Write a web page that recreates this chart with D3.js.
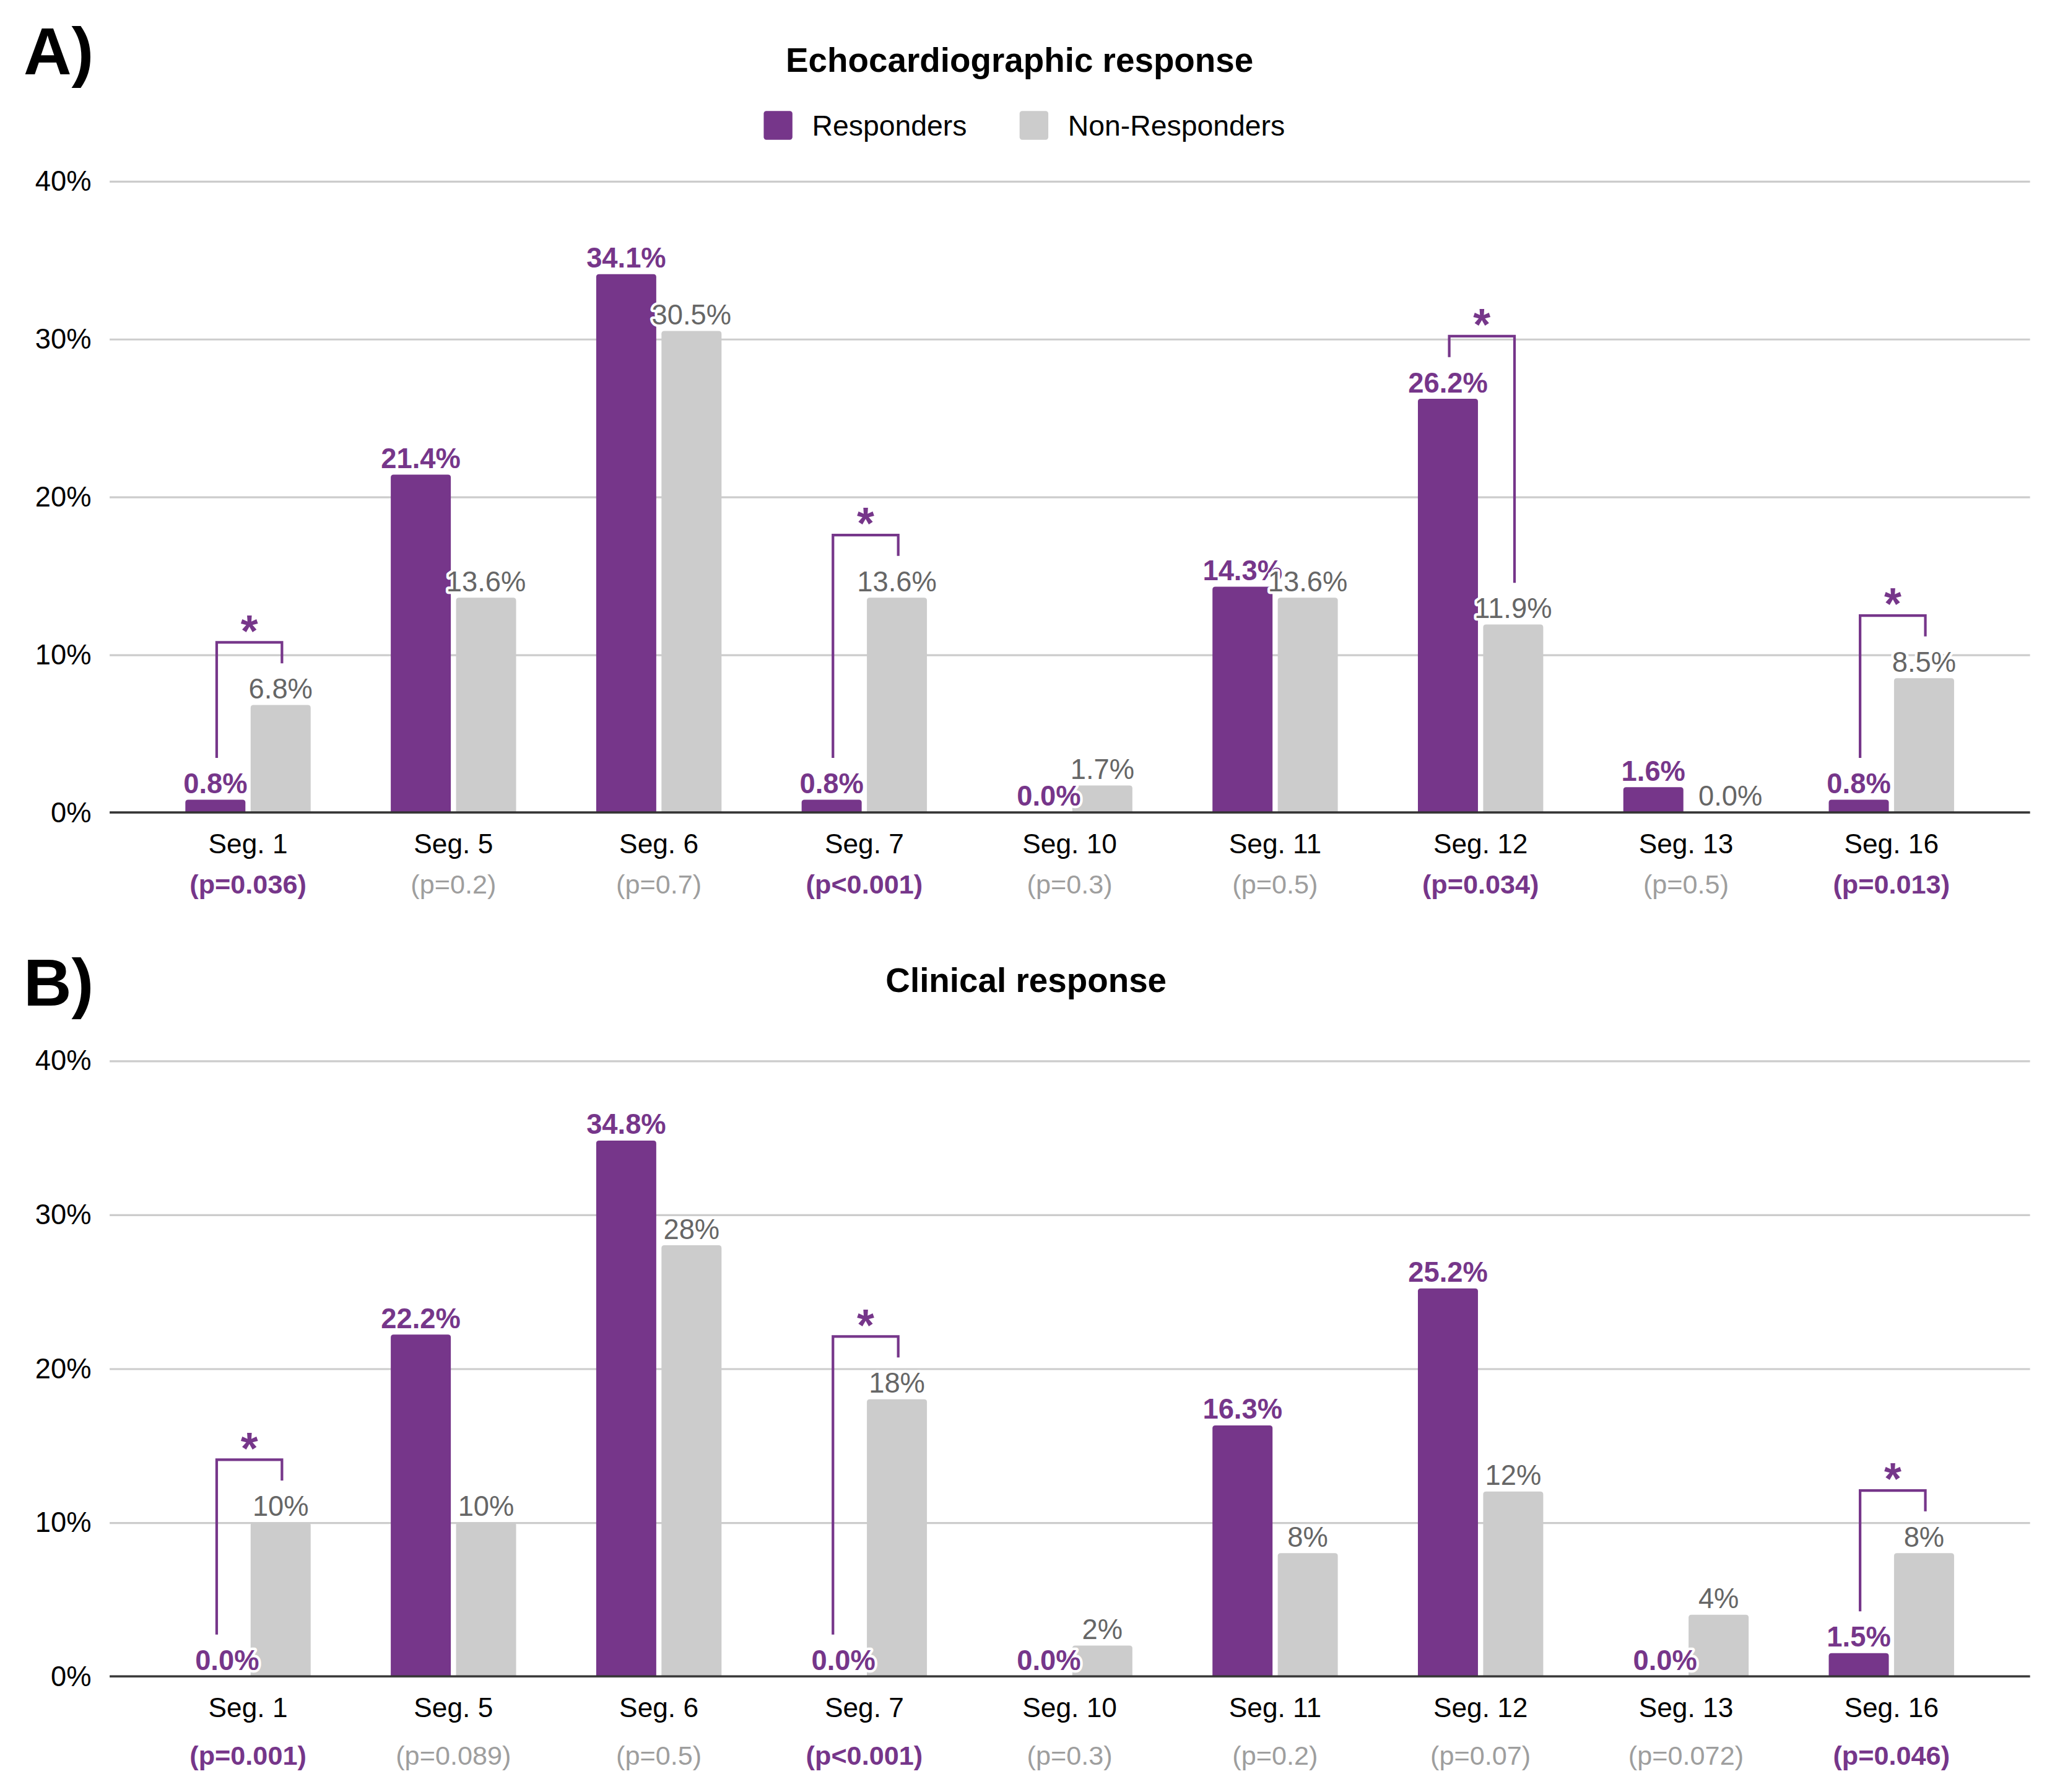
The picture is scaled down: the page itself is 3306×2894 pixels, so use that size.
<!DOCTYPE html>
<html>
<head>
<meta charset="utf-8">
<script src="https://cdn.jsdelivr.net/npm/d3@7"></script>
<style>
  body { margin: 0; background: #fff; }
  text { font-family: "Liberation Sans", Arial, sans-serif; }
</style>
</head>
<body>
<script>
"use strict";
// chart values
const segments = ["Seg. 1", "Seg. 5", "Seg. 6", "Seg. 7", "Seg. 10", "Seg. 11", "Seg. 12", "Seg. 13", "Seg. 16"];
const seriesNames = ["Responders", "Non-Responders"];
const echoResponders = [0.8, 21.4, 34.1, 0.8, 0.0, 14.3, 26.2, 1.6, 0.8];
const echoNonResponders = [6.8, 13.6, 30.5, 13.6, 1.7, 13.6, 11.9, 0.0, 8.5];
const echoPValues = ["p=0.036", "p=0.2", "p=0.7", "p<0.001", "p=0.3", "p=0.5", "p=0.034", "p=0.5", "p=0.013"];
const clinResponders = [0.0, 22.2, 34.8, 0.0, 0.0, 16.3, 25.2, 0.0, 1.5];
const clinNonResponders = [10, 10, 28, 18, 2, 8, 12, 4, 8];
const clinPValues = ["p=0.001", "p=0.089", "p=0.5", "p<0.001", "p=0.3", "p=0.2", "p=0.07", "p=0.072", "p=0.046"];
const yTicks = [0, 10, 20, 30, 40];

const purple = "#76368a", grey = "#cccccc";

let svg = d3.select("body")
            .append("svg")
            .attr("width", 3306)
            .attr("height", 2894)
            .attr("viewBox", "0 0 1568 1372.5");

let gridLeft = 84, gridRight = 1555;
let x = d3.scaleBand().domain(segments).range([111.3, 1527.5]);
let sub = d3.scaleBand().domain(seriesNames).range([-48, 48]).paddingInner(0.08);

// bar with rounded top corners
function barPath(x0, y0, w, h, r) {
    return `M${x0},${y0 + h}V${y0 + r}Q${x0},${y0} ${x0 + r},${y0}H${x0 + w - r}Q${x0 + w},${y0} ${x0 + w},${y0 + r}V${y0 + h}Z`;
}

function drawPanel(cfg) {
    let g = svg.append("g");
    let y = d3.scaleLinear().domain([0, 40]).range([cfg.y0, cfg.y40]);

    g.append("text")
        .attr("x", 18).attr("y", cfg.letterY)
        .attr("font-size", 51).attr("font-weight", "bold")
        .text(cfg.letter);

    g.append("text")
        .attr("x", cfg.titleX).attr("y", cfg.titleY)
        .attr("text-anchor", "middle")
        .attr("font-size", 26).attr("font-weight", "bold")
        .text(cfg.title);

    if (cfg.legend) {
        let leg = g.append("g");
        let lx = [585, 781];
        seriesNames.forEach((name, i) => {
            leg.append("rect")
                .attr("x", lx[i]).attr("y", 85)
                .attr("width", 22).attr("height", 22).attr("rx", 2)
                .attr("fill", i === 0 ? purple : grey);
            leg.append("text")
                .attr("x", lx[i] + 37).attr("y", 104)
                .attr("font-size", 22)
                .text(name);
        });
    }

    // gridlines + y labels
    let yAxis = g.append("g")
        .attr("transform", `translate(${gridLeft},0)`)
        .call(d3.axisLeft(y).tickValues(yTicks).tickSize(-(gridRight - gridLeft))
              .tickPadding(14).tickFormat(d => d + "%"));
    yAxis.select(".domain").remove();
    yAxis.selectAll("line").attr("stroke", "#cccccc").attr("stroke-width", 1.5);
    yAxis.selectAll("text").attr("font-size", 21.5).attr("fill", "#000")
        .attr("font-family", "Liberation Sans, Arial, sans-serif");

    let rows = segments.map((s, i) => ({
        seg: s,
        vals: [cfg.resp[i], cfg.nonResp[i]],
        p: cfg.pvals[i],
        sig: +cfg.pvals[i].slice(2) < 0.05
    }));

    // bars
    let groups = g.selectAll(".grp")
        .data(rows)
        .enter()
        .append("g")
        .attr("transform", d => `translate(${x(d.seg) + x.bandwidth() / 2},0)`);

    groups.selectAll("path.bar")
        .data(d => d.vals.map((v, k) => ({ v: v, k: k })).filter(e => e.v > 0))
        .enter()
        .append("path")
        .attr("class", "bar")
        .attr("fill", e => e.k === 0 ? purple : grey)
        .attr("d", e => barPath(sub(seriesNames[e.k]), y(e.v), sub.bandwidth(), y(0) - y(e.v), 2.2));

    // baseline
    g.append("line")
        .attr("x1", gridLeft).attr("x2", gridRight)
        .attr("y1", y(0)).attr("y2", y(0))
        .attr("stroke", "#333").attr("stroke-width", 1.6);

    // value labels
    groups.selectAll("text.val")
        .data(d => d.vals.map((v, k) => ({ v: v, k: k })))
        .enter()
        .append("text")
        .attr("class", "val")
        .attr("x", e => sub(seriesNames[e.k]) + sub.bandwidth() / 2 + (e.v === 0 ? 9 : 0))
        .attr("y", e => y(e.v) - 5)
        .attr("text-anchor", "middle")
        .attr("font-size", 21.5)
        .attr("font-weight", e => e.k === 0 ? "bold" : "normal")
        .attr("fill", e => e.k === 0 ? purple : "#666666")
        .attr("stroke", "#fff").attr("stroke-width", 4)
        .attr("stroke-linejoin", "round").attr("paint-order", "stroke")
        .text(e => d3.format(e.k === 0 ? cfg.respFmt : cfg.nonFmt)(e.v) + "%");

    // significance brackets
    let sigGroups = groups.filter(d => d.sig);
    sigGroups.append("path")
        .attr("fill", "none").attr("stroke", purple).attr("stroke-width", 2)
        .attr("d", d => {
            let xl = sub(seriesNames[0]) + sub.bandwidth() / 2 + 1;
            let xr = sub(seriesNames[1]) + sub.bandwidth() / 2 + 1;
            let top = y(d3.max(d.vals)) - 48;
            return `M${xl},${y(d.vals[0]) - 32}V${top}H${xr}V${y(d.vals[1]) - 32}`;
        });
    sigGroups.append("text")
        .attr("x", 1)
        .attr("y", d => y(d3.max(d.vals)) - 48 + 3)
        .attr("text-anchor", "middle")
        .attr("font-size", 34).attr("font-weight", "bold")
        .attr("fill", purple)
        .text("*");

    // category labels
    let xAxis = g.append("g")
        .attr("transform", `translate(0,${y(0)})`)
        .call(d3.axisBottom(x).tickSize(0).tickPadding(16.5));
    xAxis.select(".domain").remove();
    xAxis.selectAll("text").attr("font-size", 21).attr("fill", "#000")
        .attr("font-family", "Liberation Sans, Arial, sans-serif");

    // p-values
    groups.append("text")
        .attr("y", y(0) + cfg.pDy)
        .attr("text-anchor", "middle")
        .attr("font-size", 20.5)
        .attr("font-weight", d => d.sig ? "bold" : "normal")
        .attr("fill", d => d.sig ? purple : "#9e9e9e")
        .text(d => "(" + d.p + ")");
}

drawPanel({
    letter: "A)", letterY: 57,
    title: "Echocardiographic response", titleX: 781, titleY: 55,
    legend: true,
    y0: 622.2, y40: 138.6,
    resp: echoResponders, nonResp: echoNonResponders, pvals: echoPValues,
    respFmt: ".1f", nonFmt: ".1f", pDy: 62
});

drawPanel({
    letter: "B)", letterY: 770,
    title: "Clinical response", titleX: 786, titleY: 760,
    legend: false,
    y0: 1283.9, y40: 812.3,
    resp: clinResponders, nonResp: clinNonResponders, pvals: clinPValues,
    respFmt: ".1f", nonFmt: ".0f", pDy: 68
});
</script>
</body>
</html>
